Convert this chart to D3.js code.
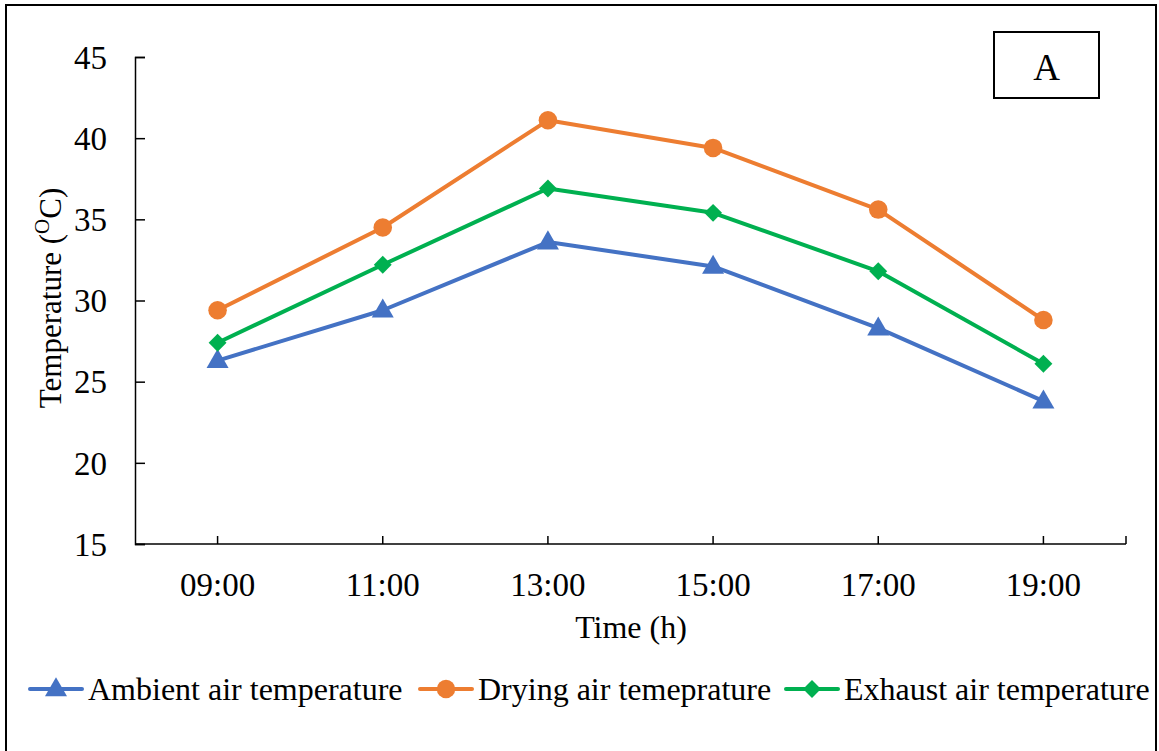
<!DOCTYPE html>
<html>
<head>
<meta charset="utf-8">
<script src="https://cdn.jsdelivr.net/npm/d3@7/dist/d3.min.js"></script>
<style>
  html, body { margin: 0; padding: 0; background: #fff; }
  svg { display: block; }
  text { font-family: "Liberation Serif", "Times New Roman", serif; fill: #000; }
</style>
</head>
<body>
<svg id="chart" width="1159" height="751"></svg>
<script>
// Hourly readings
const times = ["09:00", "11:00", "13:00", "15:00", "17:00", "19:00"];
const ambient = [26.3, 29.4, 33.6, 32.1, 28.3, 23.8];
const drying = [29.4, 34.5, 41.1, 39.4, 35.6, 28.8];
const exhaust = [27.4, 32.2, 36.9, 35.4, 31.8, 26.1];
const yTicks = [15, 20, 25, 30, 35, 40, 45];

const seriesList = [
  { name: "Ambient air temperature", values: ambient, color: "#4472C4", shape: "triangle" },
  { name: "Drying air temeprature", values: drying, color: "#ED7D31", shape: "circle" },
  { name: "Exhaust air temperature", values: exhaust, color: "#00B050", shape: "diamond" }
];

const svg = d3.select("#chart");

// Outer frame
svg.append("rect")
  .attr("x", 6).attr("y", 5).attr("width", 1150).attr("height", 760)
  .attr("fill", "none").attr("stroke", "#000").attr("stroke-width", 2);

const plot = { left: 135, right: 1126, top: 57, bottom: 544 };

const x = d3.scaleBand().domain(times).range([plot.left, plot.right]).paddingInner(0).paddingOuter(0);
const xc = d => x(d) + x.bandwidth() / 2;
const y = d3.scaleLinear().domain([15, 45]).range([plot.bottom, plot.top]);

// Y axis
const yAxis = d3.axisLeft(y).tickValues(yTicks).tickSize(-10).tickPadding(28);
const gy = svg.append("g").attr("transform", `translate(${plot.left},0)`).call(yAxis);
gy.select(".domain").attr("stroke", "#000").attr("stroke-width", 1.5);
gy.selectAll(".tick line").attr("stroke", "#000").attr("stroke-width", 1.5);
gy.selectAll(".tick text").attr("font-size", 33).attr("font-family", "Liberation Serif").attr("fill", "#000")
  .attr("dy", "0.34em");

// X axis: ticks at each category centre plus the axis end
const gx = svg.append("g").attr("transform", `translate(0,${plot.bottom})`);
gx.append("line").attr("x1", plot.left).attr("x2", plot.right)
  .attr("stroke", "#000").attr("stroke-width", 1.5);
gx.selectAll("line.tk").data(times.map(xc).concat([plot.right])).join("line")
  .attr("class", "tk")
  .attr("x1", d => d).attr("x2", d => d).attr("y1", 0).attr("y2", -8)
  .attr("stroke", "#000").attr("stroke-width", 1.5);
gx.selectAll("text").data(times).join("text")
  .attr("x", d => xc(d)).attr("y", 52)
  .attr("text-anchor", "middle").attr("font-size", 33)
  .text(d => d);

// Axis titles
svg.append("text")
  .attr("x", 631).attr("y", 638)
  .attr("text-anchor", "middle").attr("font-size", 32)
  .text("Time (h)");

const yt = svg.append("text")
  .attr("transform", "translate(61,298) rotate(-90)")
  .attr("text-anchor", "middle").attr("font-size", 31);
yt.append("tspan").text("Temperature (");
yt.append("tspan").attr("font-size", 21).attr("baseline-shift", "super").text("O");
yt.append("tspan").text("C)");

// Marker shapes
const symbolFor = {
  triangle: d3.symbol().type(d3.symbolTriangle).size(210),
  circle: d3.symbol().type(d3.symbolCircle).size(270),
  diamond: d3.symbol().type(d3.symbolSquare).size(160)
};
const markerRotate = { triangle: 0, circle: 0, diamond: 45 };
const markerShift = { triangle: 1, circle: 0, diamond: 0 };

const line = d3.line().x((d, i) => xc(times[i])).y(d => y(d));

seriesList.forEach(s => {
  svg.append("path")
    .datum(s.values)
    .attr("d", line)
    .attr("fill", "none")
    .attr("stroke", s.color)
    .attr("stroke-width", 4)
    .attr("stroke-linejoin", "round");
  svg.selectAll(null).data(s.values).join("path")
    .attr("d", symbolFor[s.shape])
    .attr("transform", (d, i) =>
      `translate(${xc(times[i])},${y(d) + markerShift[s.shape]}) rotate(${markerRotate[s.shape]})`)
    .attr("fill", s.color);
});

// Panel label
svg.append("rect").attr("x", 994).attr("y", 32).attr("width", 105).attr("height", 66)
  .attr("fill", "#fff").attr("stroke", "#000").attr("stroke-width", 2);
svg.append("text").attr("x", 1046.5).attr("y", 80).attr("text-anchor", "middle")
  .attr("font-size", 37).text("A");

// Legend
const legendX = [30, 420, 786];
const legendY = 689;
seriesList.forEach((s, i) => {
  const g = svg.append("g").attr("transform", `translate(${legendX[i]},${legendY})`);
  g.append("line").attr("x1", 0).attr("x2", 52).attr("y1", 0).attr("y2", 0)
    .attr("stroke", s.color).attr("stroke-width", 4).attr("stroke-linecap", "round");
  g.append("path").attr("d", symbolFor[s.shape])
    .attr("transform", `translate(26,${markerShift[s.shape]}) rotate(${markerRotate[s.shape]})`)
    .attr("fill", s.color);
  g.append("text").attr("x", 58).attr("y", 11).attr("font-size", 32).text(s.name);
});
</script>
</body>
</html>
